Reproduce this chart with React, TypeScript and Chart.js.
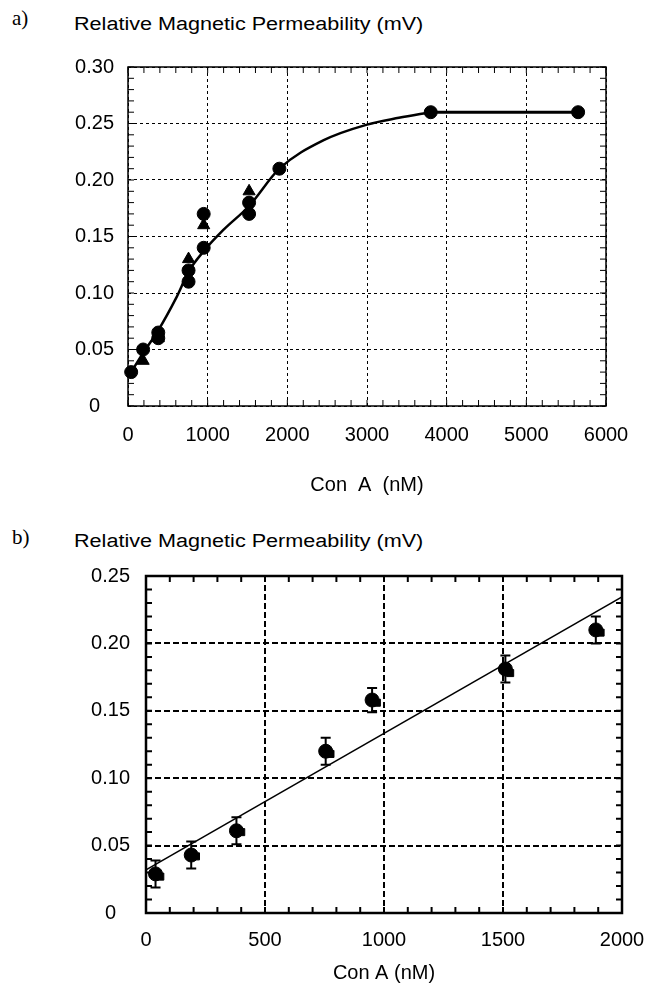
import React, { useEffect, useRef } from 'react';
import { Chart, registerables } from 'chart.js';
Chart.register(...registerables);

const FONT = "'Liberation Sans', Arial, sans-serif";

// ---------- Panel a ----------
const aCircleX = [40, 190, 380, 380, 760, 760, 950, 950, 1520, 1520, 1900, 3800, 5650];
const aCircleY = [0.03, 0.05, 0.065, 0.06, 0.12, 0.11, 0.17, 0.14, 0.18, 0.17, 0.21, 0.26, 0.26];
const aTriX = [190, 380, 760, 950, 1520];
const aTriY = [0.04, 0.06, 0.13, 0.16, 0.19];
const aFitX = [40, 190, 380, 600, 770, 950, 1200, 1520, 1900, 2450, 3000, 3400, 3800];
const aFitY = [0.03, 0.047, 0.067, 0.095, 0.12, 0.137, 0.156, 0.177, 0.21, 0.235, 0.249, 0.255, 0.26];
const aPlateauX = [3800, 5650];
const aPlateauY = [0.26, 0.26];
const aXTicks = [0, 1000, 2000, 3000, 4000, 5000, 6000];
const aYTicks = [0, 0.05, 0.1, 0.15, 0.2, 0.25, 0.3];

// ---------- Panel b ----------
const bX = [40, 190, 380, 755, 950, 1510, 1890];
const bY = [0.029, 0.043, 0.061, 0.12, 0.158, 0.181, 0.21];
const bErr = [0.01, 0.01, 0.01, 0.01, 0.009, 0.01, 0.01];
const bSqX = [60, 210, 400, 775, 970, 1530, 1910];
const bSqY = [0.027, 0.042, 0.06, 0.118, 0.156, 0.178, 0.208];
const bFitX = [0, 2000];
const bFitY = [0.032, 0.2345];
const bXTicks = [0, 500, 1000, 1500, 2000];
const bYTicks = [0, 0.05, 0.1, 0.15, 0.2, 0.25];

const zip = (xs: number[], ys: number[]) => xs.map((x, i) => ({ x, y: ys[i] }));
const range = (a: number, b: number, s: number) => {
  const out: number[] = [];
  for (let i = 0; a + i * s <= b + 1e-9; i++) out.push(+(a + i * s).toFixed(6));
  return out;
};
const noPad = (s: any) => { s.paddingTop = 0; s.paddingBottom = 0; s.paddingLeft = 0; s.paddingRight = 0; };

const framePlugin = {
  id: 'frame',
  beforeDatasetsDraw(chart: any, _args: any, opts: any) {
    const { ctx, chartArea, scales } = chart;
    const { left, right, top, bottom } = chartArea;
    const x = scales.x, y = scales.y;
    ctx.save();
    ctx.strokeStyle = '#000';
    ctx.setLineDash([]);
    ctx.lineWidth = opts.tickWidth;
    const len = opts.tickLen;
    ctx.beginPath();
    for (const v of opts.xMinor) {
      const px = x.getPixelForValue(v);
      ctx.moveTo(px, bottom); ctx.lineTo(px, bottom - len);
      ctx.moveTo(px, top); ctx.lineTo(px, top + len);
    }
    for (const v of opts.yMinor) {
      const py = y.getPixelForValue(v);
      ctx.moveTo(left, py); ctx.lineTo(left + len, py);
      ctx.moveTo(right, py); ctx.lineTo(right - len, py);
    }
    ctx.stroke();
    ctx.lineWidth = opts.frameWidth;
    ctx.strokeRect(left, top, right - left, bottom - top);
    ctx.restore();
  },
};

const errorBarPlugin = {
  id: 'errorBars',
  afterDatasetsDraw(chart: any, _args: any, opts: any) {
    if (!opts || !opts.errors) return;
    const ds = chart.data.datasets[opts.datasetIndex];
    const { ctx, scales } = chart;
    const x = scales.x, y = scales.y;
    ctx.save();
    ctx.strokeStyle = '#000';
    ctx.lineWidth = opts.width;
    ctx.setLineDash([]);
    ctx.beginPath();
    ds.data.forEach((p: any, i: number) => {
      const e = opts.errors[i];
      const px = x.getPixelForValue(p.x);
      const pt = y.getPixelForValue(p.y + e);
      const pb = y.getPixelForValue(p.y - e);
      ctx.moveTo(px, pt); ctx.lineTo(px, pb);
      ctx.moveTo(px - opts.cap, pt); ctx.lineTo(px + opts.cap, pt);
      ctx.moveTo(px - opts.cap, pb); ctx.lineTo(px + opts.cap, pb);
    });
    ctx.stroke();
    ctx.restore();
  },
};

const yFmt = (v: any) => (Number(v) === 0 ? '0' : Number(v).toFixed(2));

function ChartA() {
  const ref = useRef<HTMLCanvasElement>(null);
  useEffect(() => {
    const chart = new Chart(ref.current as HTMLCanvasElement, {
      type: 'scatter',
      data: {
        datasets: [
          { data: zip(aFitX, aFitY), showLine: true, cubicInterpolationMode: 'monotone', borderColor: '#000', borderWidth: 2.5, pointRadius: 0, clip: false } as any,
          { data: zip(aPlateauX, aPlateauY), showLine: true, borderColor: '#000', borderWidth: 3, pointRadius: 0, clip: false } as any,
          { data: zip(aTriX, aTriY), pointStyle: 'triangle', pointRadius: 7, backgroundColor: '#000', borderColor: '#000', clip: false } as any,
          { data: zip(aCircleX, aCircleY), pointStyle: 'circle', pointRadius: 6.5, backgroundColor: '#000', borderColor: '#000', clip: false } as any,
        ],
      },
      options: {
        animation: false,
        responsive: false,
        layout: { padding: { top: 17, right: 44, bottom: 3, left: 0 } },
        plugins: {
          legend: { display: false },
          tooltip: { enabled: false },
          frame: { frameWidth: 1.5, tickWidth: 1, tickLen: 6, xMinor: range(0, 6000, 200), yMinor: range(0, 0.3, 0.01) },
        } as any,
        scales: {
          x: {
            type: 'linear', min: 0, max: 6000,
            afterBuildTicks: (s: any) => { s.ticks = aXTicks.map((v) => ({ value: v })); },
            afterFit: (s: any) => { s.height = 91; noPad(s); },
            ticks: { autoSkip: false, maxRotation: 0, padding: 17, color: '#000', font: { family: FONT, size: 20 }, callback: (v: any) => String(v) },
            grid: { color: '#000', lineWidth: 1, drawTicks: false },
            border: { display: false, dash: [3, 3] },
            title: { display: true, text: 'Con  A  (nM)', color: '#000', font: { family: FONT, size: 20 }, padding: { top: 0, bottom: 0 } },
          },
          y: {
            type: 'linear', min: 0, max: 0.3,
            afterBuildTicks: (s: any) => { s.ticks = aYTicks.map((v) => ({ value: v })); },
            afterFit: (s: any) => { s.width = 128; noPad(s); },
            ticks: { autoSkip: false, crossAlign: 'center', padding: 14, color: '#000', font: { family: FONT, size: 20 }, callback: yFmt },
            grid: { color: '#000', lineWidth: 1, drawTicks: false },
            border: { display: false, dash: [3, 3] },
          },
        },
      } as any,
      plugins: [framePlugin],
    });
    return () => chart.destroy();
  }, []);
  return <canvas ref={ref} width={650} height={450} style={{ position: 'absolute', left: 0, top: 50 }} />;
}

function ChartB() {
  const ref = useRef<HTMLCanvasElement>(null);
  useEffect(() => {
    const chart = new Chart(ref.current as HTMLCanvasElement, {
      type: 'scatter',
      data: {
        datasets: [
          { data: zip(bX, bY), pointStyle: 'circle', pointRadius: 7, backgroundColor: '#000', borderColor: '#000', clip: false } as any,
          { data: zip(bSqX, bSqY), pointStyle: 'rect', pointRadius: 5, backgroundColor: '#000', borderColor: '#000', clip: false } as any,
          { data: zip(bFitX, bFitY), showLine: true, borderColor: '#000', borderWidth: 1.5, pointRadius: 0 } as any,
        ],
      },
      options: {
        animation: false,
        responsive: false,
        layout: { padding: { top: 21, right: 28, bottom: 6, left: 0 } },
        plugins: {
          legend: { display: false },
          tooltip: { enabled: false },
          frame: { frameWidth: 2.5, tickWidth: 2, tickLen: 6, xMinor: range(0, 2000, 100), yMinor: range(0, 0.25, 0.01) },
          errorBars: { datasetIndex: 0, errors: bErr, width: 2, cap: 5 },
        } as any,
        scales: {
          x: {
            type: 'linear', min: 0, max: 2000,
            afterBuildTicks: (s: any) => { s.ticks = bXTicks.map((v) => ({ value: v })); },
            afterFit: (s: any) => { s.height = 72; noPad(s); },
            ticks: { autoSkip: false, maxRotation: 0, padding: 15, color: '#000', font: { family: FONT, size: 20 }, callback: (v: any) => String(v) },
            grid: { color: '#000', lineWidth: 2, drawTicks: false },
            border: { display: false, dash: [6, 3] },
            title: { display: true, text: 'Con A (nM)', color: '#000', font: { family: FONT, size: 20 }, padding: { top: 0, bottom: 0 } },
          },
          y: {
            type: 'linear', min: 0, max: 0.25,
            afterBuildTicks: (s: any) => { s.ticks = bYTicks.map((v) => ({ value: v })); },
            afterFit: (s: any) => { s.width = 146; noPad(s); },
            ticks: { autoSkip: false, crossAlign: 'center', padding: 16, color: '#000', font: { family: FONT, size: 20 }, callback: yFmt },
            grid: { color: '#000', lineWidth: 2, drawTicks: false },
            border: { display: false, dash: [6, 3] },
          },
        },
      } as any,
      plugins: [framePlugin, errorBarPlugin],
    });
    return () => chart.destroy();
  }, []);
  return <canvas ref={ref} width={650} height={436} style={{ position: 'absolute', left: 0, top: 555 }} />;
}

const panelLabel: React.CSSProperties = {
  position: 'absolute', left: 12, fontFamily: "'Liberation Serif', 'Times New Roman', serif",
  fontSize: 21, lineHeight: '21px', color: '#000', whiteSpace: 'nowrap',
};
const headTitle: React.CSSProperties = {
  position: 'absolute', left: 74, fontFamily: FONT, fontSize: 18, lineHeight: '18px', color: '#000',
  whiteSpace: 'nowrap', transform: 'scaleX(1.2)', transformOrigin: 'left center',
};

export default function App() {
  return (
    <div style={{ position: 'absolute', left: 0, top: 0, width: 650, height: 991, background: '#fff', overflow: 'hidden' }}>
      <div style={{ ...panelLabel, top: 8 }}>a)</div>
      <div style={{ ...headTitle, top: 15 }}>Relative Magnetic Permeability (mV)</div>
      <ChartA />
      <div style={{ ...panelLabel, top: 527 }}>b)</div>
      <div style={{ ...headTitle, top: 532 }}>Relative Magnetic Permeability (mV)</div>
      <ChartB />
    </div>
  );
}
